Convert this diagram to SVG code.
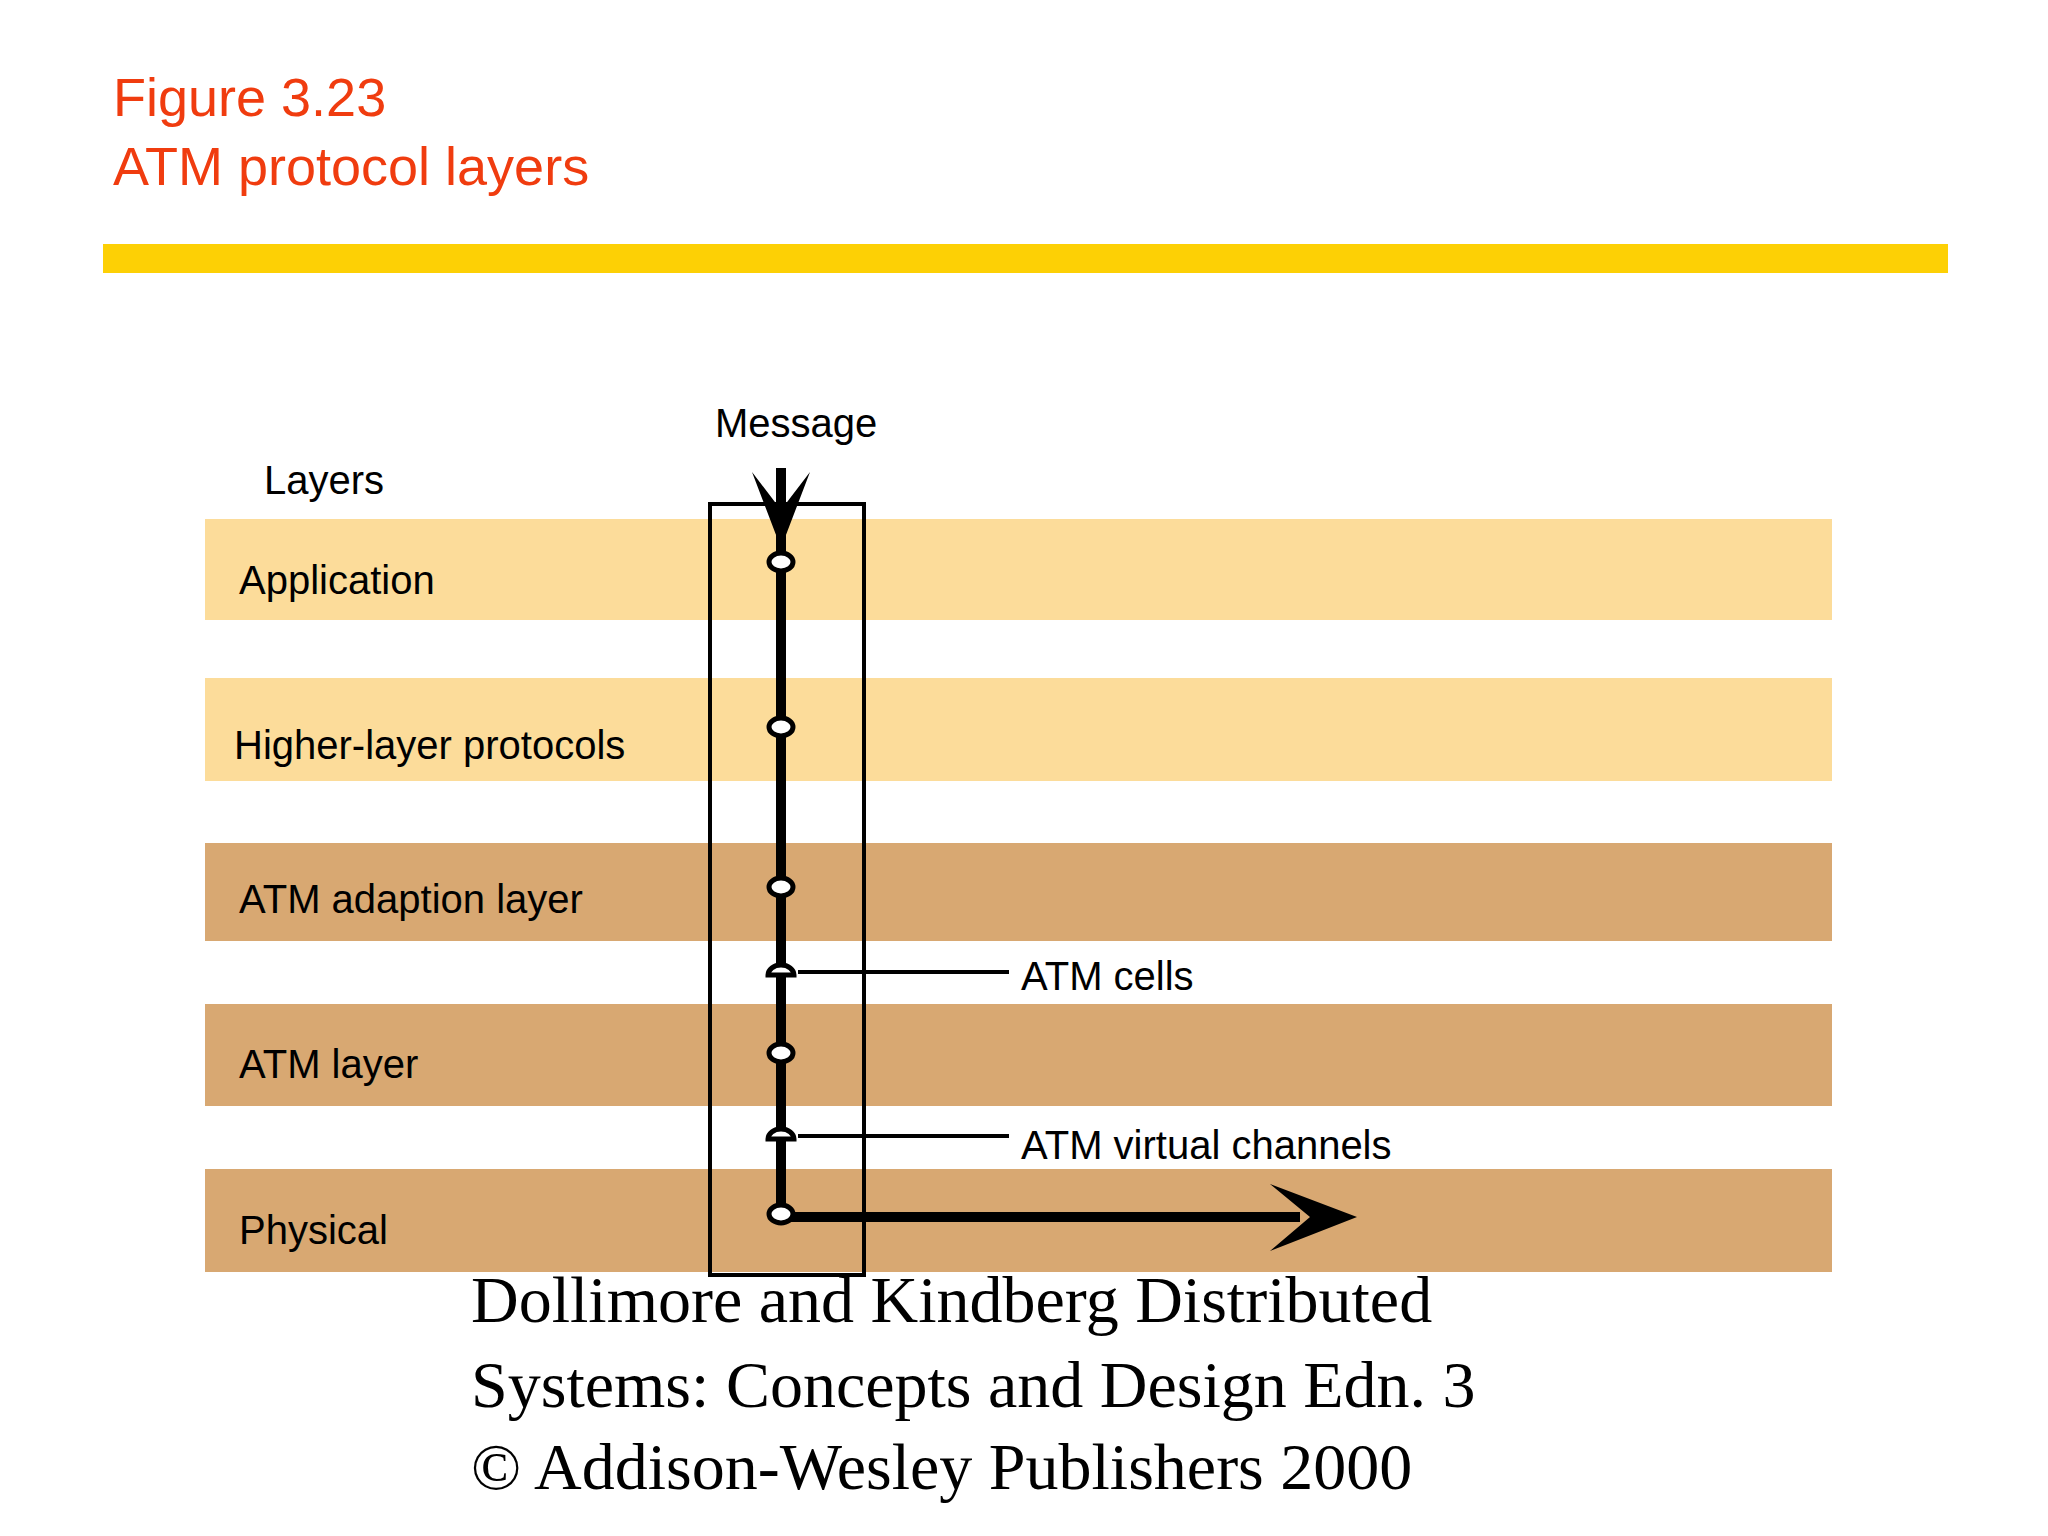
<svg xmlns="http://www.w3.org/2000/svg" width="2048" height="1536" viewBox="0 0 2048 1536">
<style>
.t{font-family:"Liberation Sans",Arial,sans-serif;font-size:40px;fill:#000}
.ti{font-family:"Liberation Sans",Arial,sans-serif;font-size:54px;fill:#F03C0F}
.f{font-family:"Liberation Serif","Times New Roman",serif;font-size:66px;fill:#000}
.lt{fill:#FCDC9A}.dk{fill:#D8A872}
.node{fill:#fff;stroke:#000;stroke-width:5}
</style>
<rect width="2048" height="1536" fill="#fff"/>
<g id="title">
<text class="ti" x="113" y="116">Figure 3.23</text>
<text class="ti" x="113" y="185">ATM protocol layers</text>
<rect x="103" y="244" width="1845" height="29" fill="#FDD005"/>
</g>
<g id="bands">
<rect class="lt" x="205" y="519" width="1627" height="101"/>
<rect class="lt" x="205" y="678" width="1627" height="103"/>
<rect class="dk" x="205" y="843" width="1627" height="98"/>
<rect class="dk" x="205" y="1004" width="1627" height="102"/>
<rect class="dk" x="205" y="1169" width="1627" height="103"/>
</g>
<g id="labels">
<text class="t" x="264" y="494">Layers</text>
<text class="t" x="715" y="437">Message</text>
<text class="t" x="239" y="594">Application</text>
<text class="t" x="234" y="759">Higher-layer protocols</text>
<text class="t" x="239" y="913">ATM adaption layer</text>
<text class="t" x="239" y="1078">ATM layer</text>
<text class="t" x="239" y="1244">Physical</text>
<text class="t" x="1021" y="990">ATM cells</text>
<text class="t" x="1021" y="1159">ATM virtual channels</text>
</g>
<g id="box"><rect x="710" y="504" width="154" height="771" fill="none" stroke="#000" stroke-width="4"/></g>
<g id="connectors">
<line x1="781" y1="468" x2="781" y2="1214" stroke="#000" stroke-width="10"/>
<polygon points="752,472 781,510 810,472 781,548" fill="#000"/>
<line x1="781" y1="1217" x2="1300" y2="1217" stroke="#000" stroke-width="10"/>
<polygon points="1270,1184 1357,1217 1270,1251 1310,1217" fill="#000"/>
<line x1="798" y1="972" x2="1009" y2="972" stroke="#000" stroke-width="4"/>
<line x1="798" y1="1136" x2="1009" y2="1136" stroke="#000" stroke-width="4"/>
</g>
<g id="nodes">
<ellipse class="node" cx="781" cy="562" rx="12" ry="9"/>
<ellipse class="node" cx="781" cy="727" rx="12" ry="9"/>
<ellipse class="node" cx="781" cy="887" rx="12" ry="9"/>
<ellipse class="node" cx="781" cy="1053" rx="12" ry="9"/>
<ellipse class="node" cx="781" cy="1214" rx="12" ry="9"/>
<path d="M768,975 A13,10 0 0 1 794,975 Z" class="node"/>
<path d="M768,1139 A13,10 0 0 1 794,1139 Z" class="node"/>
</g>
<g id="footer" xml:space="preserve">
<text class="f" x="471" y="1322">Dollimore and Kindberg   Distributed</text>
<text class="f" x="471" y="1407">Systems: Concepts and Design   Edn. 3</text>
<text class="f" x="471" y="1489">©  Addison-Wesley Publishers 2000</text>
</g>
</svg>
